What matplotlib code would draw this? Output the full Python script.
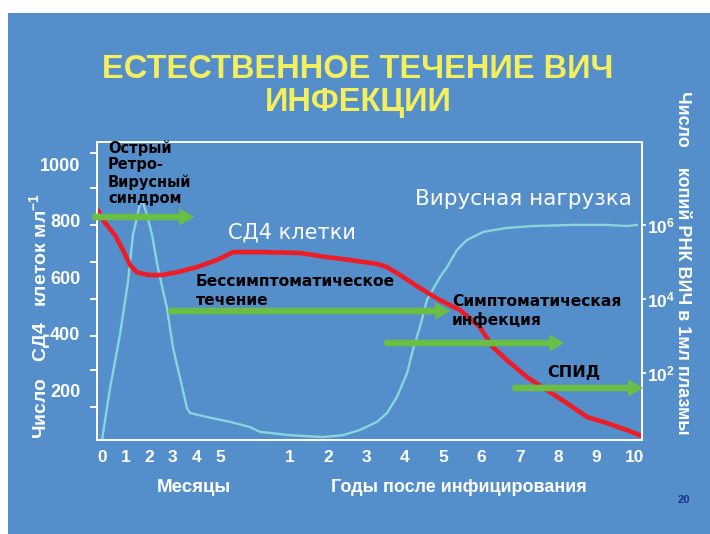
import numpy as np
import matplotlib
matplotlib.use("Agg")
import matplotlib.pyplot as plt
from matplotlib.patches import Rectangle, FancyArrowPatch
from matplotlib.ticker import FixedLocator, NullLocator
from matplotlib import font_manager

# ---------------- data ----------------
# CD4 count (cells/ml) vs time since infection (months)
cd4_months = [-0.2, 0.04, 0.55, 0.89, 1.19, 1.48, 1.95, 2.54, 3.18, 4.03, 4.87,
              6.3, 8.0, 9.0, 15.1, 23.6, 30.8, 39.3, 42.4, 46.5, 52.7, 59.0,
              65.3, 71.5, 75.6, 80.0, 86.3, 92.5, 98.8, 105.1, 111.3, 117.6, 122.3]
cd4_counts = [841, 802, 749, 696, 643, 618, 608, 608, 618, 636, 661,
              689, 689, 689, 686, 671, 661, 647, 636, 608, 562, 519,
              484, 424, 353, 307, 247, 201, 155, 106, 85, 60, 39]

# Viral load (log10 copies HIV RNA / ml) vs time (months)
vl_months = [0, 0.34, 0.76, 1.10, 1.31, 1.48, 1.61, 1.74, 1.91, 2.12, 2.37, 2.75,
             3.01, 3.31, 3.60, 3.73, 4.45, 6.0, 8.0, 9.0, 12, 22.3, 28.6, 33.9,
             39.3, 42.4, 45.5, 48.7, 50.5, 52.7, 54.9, 59.0, 61.2, 64.3, 67.4,
             72.5, 80.0, 88.1, 100.7, 111.3, 117.6, 120.7]
vl_log10 = [0.19, 1.59, 3.03, 4.46, 5.73, 6.19, 6.59, 6.59, 6.27, 5.73, 4.84, 3.76,
            2.68, 1.86, 1.05, 0.92, 0.81, 0.68, 0.54, 0.41, 0.32, 0.27, 0.32, 0.46,
            0.68, 0.92, 1.35, 2.0, 2.62, 3.24, 3.97, 4.59, 4.86, 5.32, 5.59,
            5.81, 5.92, 5.97, 6.0, 6.0, 5.97, 6.0]

month_ticks = [0, 1, 2, 3, 4, 5]
year_ticks = [1, 2, 3, 4, 5, 6, 7, 8, 9, 10]
cd4_tick_values = [200, 400, 600, 800, 1000]
vl_tick_exponents = [2, 4, 6]

title_lines = ["ЕСТЕСТВЕННОЕ ТЕЧЕНИЕ ВИЧ", "ИНФЕКЦИИ"]
phase_labels = ["Острый\nРетро-\nВирусный\nсиндром",
                "Бессимптоматическое\nтечение",
                "Симптоматическая\nинфекция",
                "СПИД"]

# ---------------- style ----------------
W, H = 710, 534
BG = "#548ecb"
RED = "#ee1c25"
CYAN = "#86d6dc"
GREEN = "#6cbd45"
YELLOW = "#f4ef5c"

names = {f.name for f in font_manager.fontManager.ttflist}
NARROW = "Liberation Sans Narrow" if "Liberation Sans Narrow" in names else "Liberation Sans"
plt.rcParams["font.family"] = ["Liberation Sans", "DejaVu Sans"]
plt.rcParams["mathtext.default"] = "regular"

fig = plt.figure(figsize=(W / 100, H / 100), dpi=100, facecolor="white")
fig.patches.append(Rectangle((8 / W, 0), 1 - 8 / W, 1 - 13 / H, transform=fig.transFigure,
                             facecolor=BG, edgecolor="none", zorder=-1))


def fx(x):
    return x / W


def fy(y):
    return 1 - y / H


# piecewise time scale: months 0-5 wide, then years compressed
kn_m = np.array([-24.0, 0.0, 5.0, 12.0, 120.0, 240.0])
kn_p = np.array([-24 * 23.6, 0.0, 118.0, 188.0, 532.7, 532.7 + 120 * 3.19])


def fwd(m):
    return np.interp(m, kn_m, kn_p)


def inv(p):
    return np.interp(p, kn_p, kn_m)


ax_vl = fig.add_axes([fx(97), fy(440), (642 - 97) / W, (440 - 142) / H])
ax_vl.patch.set_visible(False)
ax_cd4 = ax_vl.twinx()
ax_cd4.patch.set_visible(False)

for a in (ax_vl, ax_cd4):
    a.set_xscale("function", functions=(fwd, inv))
    for s in a.spines.values():
        s.set_color("white")
        s.set_linewidth(1.3)

ax_vl.set_xlim(-0.212, 122.3)

# viral load (right, log)
ax_vl.plot(vl_months, 10 ** np.array(vl_log10), color=CYAN, lw=1.7, solid_joinstyle="round")
ax_vl.set_yscale("log")
ax_vl.set_ylim(10 ** 0.19, 10 ** 8.24)
ax_vl.yaxis.tick_right()
ax_vl.yaxis.set_major_locator(FixedLocator([10.0 ** e for e in vl_tick_exponents]))
ax_vl.yaxis.set_minor_locator(NullLocator())
ax_vl.set_yticklabels(["10$^{%d}$" % e for e in vl_tick_exponents])
ax_vl.tick_params(axis="y", which="major", length=3, width=1.3, color="white", pad=0.5,
                  labelcolor="white", labelsize=12.5)

# x ticks
xt = list(month_ticks) + [12 * y for y in year_ticks]
ax_vl.xaxis.set_major_locator(FixedLocator(xt))
ax_vl.xaxis.set_minor_locator(NullLocator())
ax_vl.set_xticklabels([str(v) for v in month_ticks] + [str(v) for v in year_ticks])
ax_vl.tick_params(axis="x", length=0, pad=7, labelcolor="white", labelsize=12.5)
for t in ax_vl.get_xticklabels() + ax_vl.get_yticklabels():
    t.set_fontweight("bold")

# CD4 (left, linear)
ax_cd4.plot(cd4_months, cd4_counts, color=RED, lw=3.3, solid_joinstyle="round",
            solid_capstyle="butt")
ax_cd4.set_ylim(25, 1078)
ax_cd4.yaxis.tick_left()
ax_cd4.yaxis.set_major_locator(FixedLocator(cd4_tick_values))
ax_cd4.yaxis.set_minor_locator(FixedLocator([1039, 915, 784, 654, 523, 392, 272, 142]))
ax_cd4.set_yticklabels([str(v) for v in cd4_tick_values])
ax_cd4.tick_params(axis="y", which="major", length=0, pad=12, labelcolor="white",
                   labelsize=13)
ax_cd4.tick_params(axis="y", which="minor", length=5, width=1.3, color="white",
                   direction="out")
for t in ax_cd4.get_yticklabels():
    t.set_fontweight("bold")
    t.set_family(NARROW)
ax_cd4.tick_params(axis="x", which="both", length=0, labelbottom=False, labeltop=False)

# ---------------- texts ----------------
fig.text(fx(358), fy(70), title_lines[0], ha="center", va="center", color=YELLOW,
         fontsize=23.5, fontweight="bold", family=NARROW)
fig.text(fx(358), fy(103), title_lines[1], ha="center", va="center", color=YELLOW,
         fontsize=23.5, fontweight="bold", family=NARROW)

fig.text(fx(108), fy(140), phase_labels[0], ha="left", va="top", color="black",
         fontsize=10.5, fontweight="bold", family="DejaVu Sans", linespacing=1.15)
fig.text(fx(196), fy(291), phase_labels[1], ha="left", va="center", color="black",
         fontsize=11.2, fontweight="bold", family="DejaVu Sans", linespacing=1.3)
fig.text(fx(452), fy(311), phase_labels[2], ha="left", va="center", color="black",
         fontsize=11.2, fontweight="bold", family="DejaVu Sans", linespacing=1.3)
fig.text(fx(547), fy(373), phase_labels[3], ha="left", va="center", color="black",
         fontsize=11.5, fontweight="bold", family="DejaVu Sans")

fig.text(fx(228), fy(233), "СД4 клетки", ha="left", va="center", color="white",
         fontsize=15, family="DejaVu Sans")
fig.text(fx(415), fy(199), "Вирусная нагрузка", ha="left", va="center", color="white",
         fontsize=15.5, family="DejaVu Sans")

fig.text(fx(194), fy(487), "Месяцы", ha="center", va="center", color="white",
         fontsize=13.5, fontweight="bold", family=NARROW)
fig.text(fx(459), fy(487), "Годы после инфицирования", ha="center", va="center",
         color="white", fontsize=13, fontweight="bold", family=NARROW)

fig.text(fx(40), fy(316), "Число   СД4   клеток мл$^{-1}$", rotation=90, ha="center",
         va="center", color="white", fontsize=14, fontweight="bold", family=NARROW)
fig.text(fx(683), fy(263), "Число    копий РНК ВИЧ в 1мл плазмы", rotation=270,
         ha="center", va="center", color="white", fontsize=13, fontweight="bold",
         family=NARROW)

fig.text(fx(684), fy(500), "20", ha="center", va="center", color="#1f2f8f",
         fontsize=8, fontweight="bold")

# ---------------- arrows ----------------
arrows = [((93, 217), (193, 217)), ((169, 311), (449, 311)),
          ((385, 343), (563, 343)), ((513, 388), (642, 388))]
for (x0, y0), (x1, y1) in arrows:
    fig.patches.append(FancyArrowPatch((fx(x0), fy(y0)), (fx(x1), fy(y1)),
                                       transform=fig.transFigure,
                                       arrowstyle="simple,head_length=0.95,head_width=1.08,tail_width=0.38",
                                       mutation_scale=10, color=GREEN, shrinkA=0, shrinkB=0,
                                       zorder=5))

fig.savefig("out.png", dpi=100, facecolor=fig.get_facecolor())
